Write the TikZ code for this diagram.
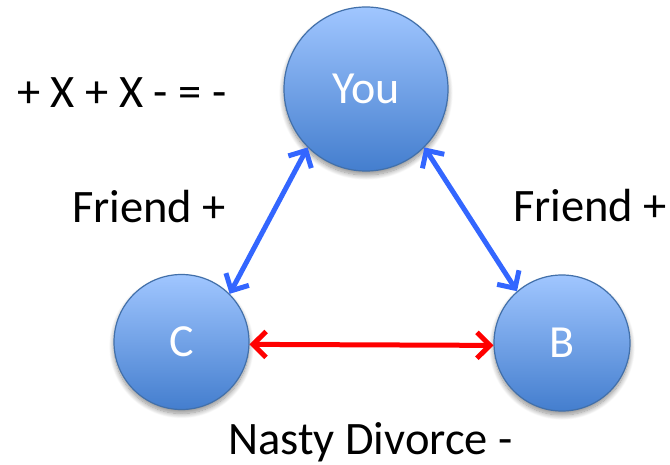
\documentclass[tikz,border=0pt]{standalone}
\usepackage{fontspec}
\setmainfont{Carlito}
\usetikzlibrary{arrows.meta,shadows.blur}

\definecolor{balltop}{RGB}{160,198,255}
\definecolor{ballbottom}{RGB}{68,126,206}
\definecolor{ballrim}{RGB}{66,112,170}
\definecolor{friendblue}{RGB}{51,102,255}
\definecolor{divorcered}{RGB}{255,0,0}

\tikzset{
  person/.style={circle, draw=ballrim, line width=1.2pt, inner sep=0pt,
    top color=balltop, bottom color=ballbottom, text=white,
    font=\fontsize{46}{52}\selectfont,
    blur shadow={shadow xshift=0pt, shadow yshift=-4pt, shadow blur radius=5pt,
      shadow blur steps=12, shadow opacity=45}},
  chev/.tip={Straight Barb[length=13pt,width=26pt,line width=5pt]},
  tie/.style={line width=5pt, line cap=round, line join=round, chev-chev},
  friendtie/.style={tie, draw=friendblue},
  divorcetie/.style={tie, draw=divorcered},
  caption/.style={anchor=base west, inner sep=0pt, font=\fontsize{46.5}{52}\selectfont}
}

\begin{document}
\begin{tikzpicture}[x=1pt,y=-1pt]
  \useasboundingbox (0,0) rectangle (670,465);

  % the three people
  \node[person, minimum size=164pt] (you) at (366,89) {You};
  \node[person, minimum size=135pt] (c) at (181.5,342) {C};
  \node[person, minimum size=136pt] (b) at (562,343) {B};

  % relationships
  \draw[friendtie] (c.45) -- (you.225);
  \draw[friendtie] (you.-45) -- (b.131);
  \draw[divorcetie] (c.-2) -- (b.182);

  % captions
  \node[caption] (sign) at (17,108) {+ X + X - = -};
  \node[caption] (fl) at (72,223) {Friend +};
  \node[caption] (fr) at (513,222) {Friend +};
  \node[caption] (nd) at (228,454) {Nasty Divorce -};
\end{tikzpicture}
\end{document}
